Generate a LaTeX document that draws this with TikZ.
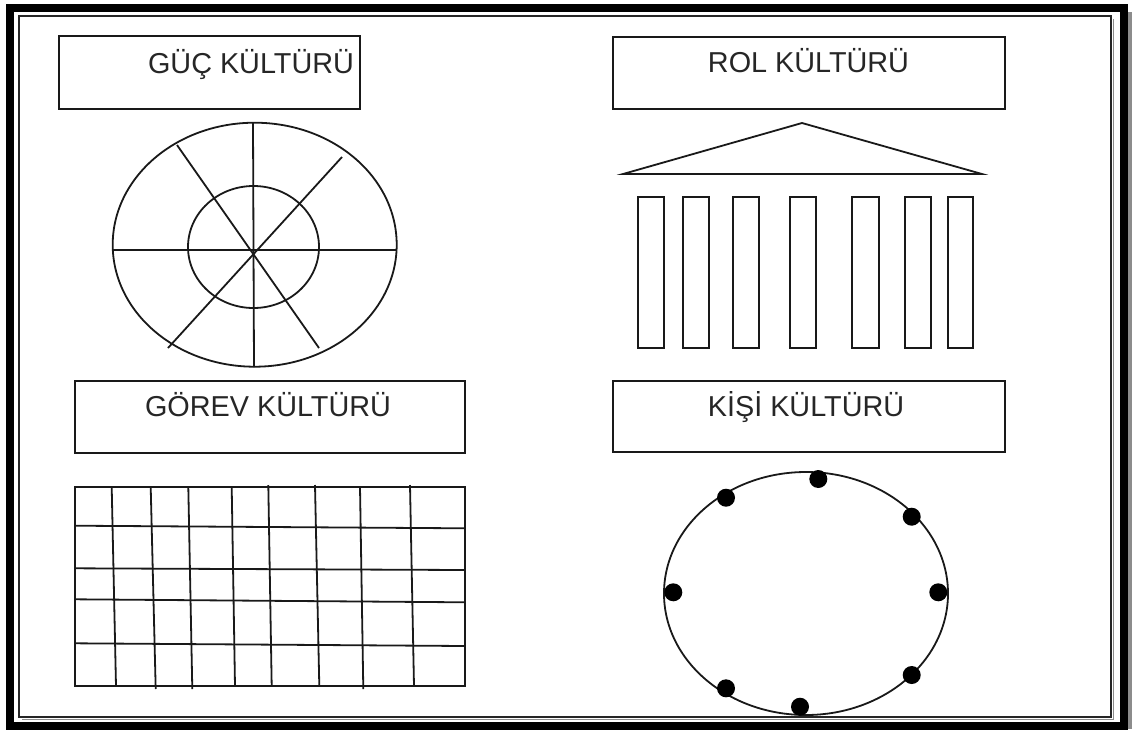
\documentclass[tikz,border=0pt]{standalone}
\usepackage{fontspec}
\setmainfont{Liberation Sans}
\begin{document}
\begin{tikzpicture}[x=1pt,y=-1pt,
  box/.style={draw=black!90, line width=1.9pt, inner sep=0pt},
  lbl/.style={font=\fontsize{28.8}{32}\selectfont, text=black!85, anchor=base, inner sep=0pt},
  ln/.style={line width=1.8pt, draw=black!90},
  dot/.style={fill=black}
]
\useasboundingbox (0,0) rectangle (1135,729);
\fill[white] (0,0) rectangle (1135,729);
% frame
\draw[black!45, line width=4pt] (1130,12) -- (1130,729);
\draw[black, line width=8pt] (10,7.5) rectangle (1124,725.5);
\draw[black!45, line width=1.5pt] (1113.5,19) -- (1113.5,719.5) -- (22,719.5);
\draw[black!85, line width=2pt] (19,16) rectangle (1111,717);

% boxes and labels
\node[box, minimum width=301pt, minimum height=73pt] (b1) at (209.5,72.5) {};
\node[lbl] (t1) at (251,73) {GÜÇ KÜLTÜRÜ};
\node[box, minimum width=392pt, minimum height=72pt] (b2) at (809,73) {};
\node[lbl] (t2) at (808.5,72) {ROL KÜLTÜRÜ};
\node[box, minimum width=390pt, minimum height=72pt] (b3) at (270,417) {};
\node[lbl] (t3) at (268,416) {GÖREV KÜLTÜRÜ};
\node[box, minimum width=392pt, minimum height=71pt] (b4) at (809,416.5) {};
\node[lbl] (t4) at (806,416) {KİŞİ KÜLTÜRÜ};

% power culture: web
\draw[ln] (254.7,244.7) ellipse [x radius=142pt, y radius=122pt];
\draw[ln] (253.5,247) ellipse [x radius=65.5pt, y radius=61pt];
\draw[ln] (112.7,250) -- (396.7,250);
\draw[ln] (253,123) -- (254,367);
\draw[ln] (177,145) -- (319,348);
\draw[ln] (342,157) -- (168,348);

% role culture: temple
\draw[ln, line join=miter] (623,174) -- (802,123) -- (982,174) -- cycle;
\foreach \a/\b in {638/664, 683/709, 733/759, 790/816, 852/879, 905/931, 948/973}
  \draw[ln] (\a,197) rectangle (\b,348);

% task culture: net
\draw[ln] (75,487) rectangle (465,686);
\draw[ln] (75,525.7) -- (465,528.3);
\draw[ln] (75,568.3) -- (465,570);
\draw[ln] (75,599.3) -- (465,602.3);
\draw[ln] (75,643.3) -- (465,646);
\foreach \t/\b/\ya/\yb in {111.7/116/487/686, 150.7/155.7/487/689, 188.3/192.3/487/689,
  231.7/235/487/686, 268.3/271.7/485/686, 315/319.3/485/686, 360/363.3/487/689, 410/414/485/686}
  \draw[ln] (\t,\ya) -- (\b,\yb);

% person culture: cluster
\draw[ln] (806,593.5) ellipse [x radius=142pt, y radius=121.5pt];
\foreach \x/\y in {818.3/479, 726/497.7, 911.7/516.7, 673.3/592.3, 938.3/592.3, 726/688.3, 911.7/675, 800/706.7}
  \fill[dot] (\x,\y) circle [radius=9pt];
\end{tikzpicture}
\end{document}
